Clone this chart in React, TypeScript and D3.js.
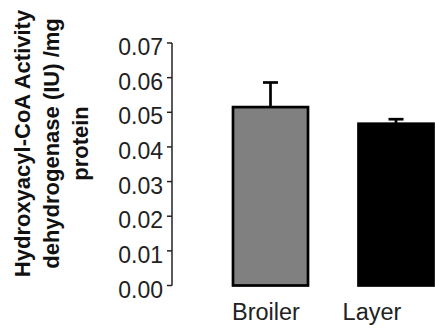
import React from "react";
import * as d3 from "d3";

const categories = ["Broiler", "Layer"];
const means = [0.0515, 0.0467];
const errors = [0.0071, 0.0013];
const fills = ["#808080", "#000000"];
const yTicks = [0, 0.01, 0.02, 0.03, 0.04, 0.05, 0.06, 0.07];
const titleLines = ["Hydroxyacyl-CoA Activity", "dehydrogenase (IU) /mg", "protein"];

const W = 435;
const H = 330;
const axisX = 172;
const labelShift = [-4.5, -24];

export default function App() {
  const y = d3.scaleLinear().domain([0, 0.07]).range([285.5, 43]);
  const x = d3
    .scaleBand<string>()
    .domain(categories)
    .range([axisX, 494.5])
    .paddingInner(0.4024)
    .paddingOuter(0.486);
  const bw = x.bandwidth();
  const font = "Arial, 'Liberation Sans', Helvetica, sans-serif";

  return (
    <svg
      width={W}
      height={H}
      style={{ position: "absolute", left: 0, top: 0, background: "#fff" }}
      fontFamily={font}
    >
      <rect x={0} y={0} width={W} height={H} fill="#fff" />
      {/* Y axis title */}
      <g transform={`translate(0,143.5) rotate(-90)`} fontWeight="bold" fontSize={22} fill="#111">
        {titleLines.map((t, i) => (
          <text key={i} x={0} y={30 + i * 29} textAnchor="middle">
            {t}
          </text>
        ))}
      </g>
      {/* Y axis */}
      <line x1={axisX} x2={axisX} y1={y(0.07)} y2={y(0)} stroke="#222" strokeWidth={1.5} />
      {yTicks.map((t) => (
        <g key={t}>
          <line x1={axisX - 5} x2={axisX} y1={y(t)} y2={y(t)} stroke="#222" strokeWidth={1.5} />
          <text x={163} y={y(t) + 12} textAnchor="end" fontSize={23} fill="#222">
            {d3.format(".2f")(t)}
          </text>
        </g>
      ))}
      {/* Bars */}
      {categories.map((c, i) => {
        const bx = x(c)!;
        const cx = bx + bw / 2;
        return (
          <g key={c}>
            <line
              x1={cx}
              x2={cx}
              y1={y(means[i])}
              y2={y(means[i] + errors[i])}
              stroke="#000"
              strokeWidth={2.7}
            />
            <line
              x1={cx - 7.5}
              x2={cx + 7.5}
              y1={y(means[i] + errors[i])}
              y2={y(means[i] + errors[i])}
              stroke="#000"
              strokeWidth={2.7}
            />
            <rect
              x={bx}
              y={y(means[i])}
              width={bw}
              height={y(0) - y(means[i])}
              fill={fills[i]}
              stroke="#000"
              strokeWidth={2.7}
            />
            <text
              x={cx + labelShift[i]}
              y={320}
              textAnchor="middle"
              fontSize={23.5}
              fill="#222"
            >
              {c}
            </text>
          </g>
        );
      })}
    </svg>
  );
}
